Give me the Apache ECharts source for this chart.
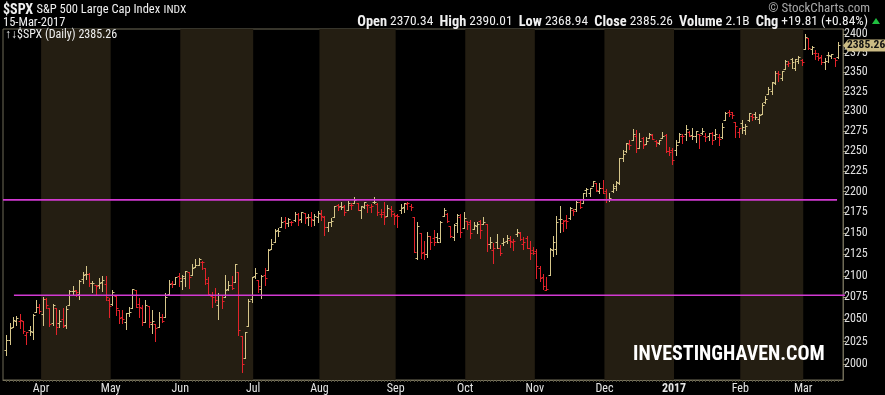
<!DOCTYPE html>
<html><head><meta charset="utf-8">
<script src="https://cdn.jsdelivr.net/npm/echarts@6/dist/echarts.min.js"></script>
<style>html,body{margin:0;padding:0;background:#000;} #c{width:885px;height:395px;}</style>
</head><body><div id="c"></div>
<script>
// ---------- DATA ($SPX daily, 16-Mar-2016 .. 15-Mar-2017) ----------
const dates = [
'2016-03-16','2016-03-17','2016-03-18','2016-03-21','2016-03-22','2016-03-23','2016-03-24','2016-03-28','2016-03-29','2016-03-30','2016-03-31',
'2016-04-01','2016-04-04','2016-04-05','2016-04-06','2016-04-07','2016-04-08','2016-04-11','2016-04-12','2016-04-13','2016-04-14','2016-04-15','2016-04-18','2016-04-19','2016-04-20','2016-04-21','2016-04-22','2016-04-25','2016-04-26','2016-04-27','2016-04-28','2016-04-29',
'2016-05-02','2016-05-03','2016-05-04','2016-05-05','2016-05-06','2016-05-09','2016-05-10','2016-05-11','2016-05-12','2016-05-13','2016-05-16','2016-05-17','2016-05-18','2016-05-19','2016-05-20','2016-05-23','2016-05-24','2016-05-25','2016-05-26','2016-05-27','2016-05-31',
'2016-06-01','2016-06-02','2016-06-03','2016-06-06','2016-06-07','2016-06-08','2016-06-09','2016-06-10','2016-06-13','2016-06-14','2016-06-15','2016-06-16','2016-06-17','2016-06-20','2016-06-21','2016-06-22','2016-06-23','2016-06-24','2016-06-27','2016-06-28','2016-06-29','2016-06-30',
'2016-07-01','2016-07-05','2016-07-06','2016-07-07','2016-07-08','2016-07-11','2016-07-12','2016-07-13','2016-07-14','2016-07-15','2016-07-18','2016-07-19','2016-07-20','2016-07-21','2016-07-22','2016-07-25','2016-07-26','2016-07-27','2016-07-28','2016-07-29',
'2016-08-01','2016-08-02','2016-08-03','2016-08-04','2016-08-05','2016-08-08','2016-08-09','2016-08-10','2016-08-11','2016-08-12','2016-08-15','2016-08-16','2016-08-17','2016-08-18','2016-08-19','2016-08-22','2016-08-23','2016-08-24','2016-08-25','2016-08-26','2016-08-29','2016-08-30','2016-08-31',
'2016-09-01','2016-09-02','2016-09-06','2016-09-07','2016-09-08','2016-09-09','2016-09-12','2016-09-13','2016-09-14','2016-09-15','2016-09-16','2016-09-19','2016-09-20','2016-09-21','2016-09-22','2016-09-23','2016-09-26','2016-09-27','2016-09-28','2016-09-29','2016-09-30',
'2016-10-03','2016-10-04','2016-10-05','2016-10-06','2016-10-07','2016-10-10','2016-10-11','2016-10-12','2016-10-13','2016-10-14','2016-10-17','2016-10-18','2016-10-19','2016-10-20','2016-10-21','2016-10-24','2016-10-25','2016-10-26','2016-10-27','2016-10-28','2016-10-31',
'2016-11-01','2016-11-02','2016-11-03','2016-11-04','2016-11-07','2016-11-08','2016-11-09','2016-11-10','2016-11-11','2016-11-14','2016-11-15','2016-11-16','2016-11-17','2016-11-18','2016-11-21','2016-11-22','2016-11-23','2016-11-25','2016-11-28','2016-11-29','2016-11-30',
'2016-12-01','2016-12-02','2016-12-05','2016-12-06','2016-12-07','2016-12-08','2016-12-09','2016-12-12','2016-12-13','2016-12-14','2016-12-15','2016-12-16','2016-12-19','2016-12-20','2016-12-21','2016-12-22','2016-12-23','2016-12-27','2016-12-28','2016-12-29','2016-12-30',
'2017-01-03','2017-01-04','2017-01-05','2017-01-06','2017-01-09','2017-01-10','2017-01-11','2017-01-12','2017-01-13','2017-01-17','2017-01-18','2017-01-19','2017-01-20','2017-01-23','2017-01-24','2017-01-25','2017-01-26','2017-01-27','2017-01-30','2017-01-31',
'2017-02-01','2017-02-02','2017-02-03','2017-02-06','2017-02-07','2017-02-08','2017-02-09','2017-02-10','2017-02-13','2017-02-14','2017-02-15','2017-02-16','2017-02-17','2017-02-21','2017-02-22','2017-02-23','2017-02-24','2017-02-27','2017-02-28',
'2017-03-01','2017-03-02','2017-03-03','2017-03-06','2017-03-07','2017-03-08','2017-03-09','2017-03-10','2017-03-13','2017-03-14','2017-03-15'
];
const opens = [
2015.27,2026.90,2041.16,2047.88,2048.64,2048.55,2032.48,2037.89,2035.75,2058.27,2063.77,
2056.62,2073.19,2062.50,2045.56,2063.01,2045.54,2050.23,2043.72,2065.92,2082.89,2083.10,2078.83,2096.05,2101.52,2102.09,2091.49,2089.37,2089.84,2092.57,2090.93,2071.82,
2067.17,2077.18,2060.30,2052.95,2046.61,2057.55,2062.63,2083.29,2067.17,2062.50,2046.53,2065.04,2044.38,2044.21,2041.88,2052.23,2052.65,2078.93,2091.44,2090.06,2100.13,
2093.94,2097.71,2104.07,2100.83,2110.18,2112.71,2115.65,2109.57,2091.75,2076.65,2077.60,2066.36,2078.20,2075.58,2085.19,2089.75,2092.80,2103.81,2031.45,2006.67,2042.69,2073.17,
2099.34,2095.05,2084.43,2100.42,2106.97,2131.72,2139.50,2153.81,2157.88,2165.13,2162.04,2163.79,2166.10,2172.91,2166.47,2173.71,2168.97,2169.81,2166.05,2168.83,
2173.15,2169.94,2156.81,2163.51,2168.79,2183.76,2182.24,2182.81,2177.97,2183.74,2186.08,2186.24,2177.84,2181.90,2184.24,2181.58,2187.81,2185.09,2173.29,2175.10,2170.19,2179.45,2173.56,
2171.33,2177.49,2181.61,2185.17,2182.76,2169.08,2120.86,2150.47,2127.86,2125.36,2146.48,2143.99,2145.94,2144.58,2170.94,2173.29,2158.54,2146.04,2161.85,2168.90,2156.51,
2164.33,2163.37,2155.15,2158.22,2164.19,2160.39,2161.35,2137.67,2130.26,2139.68,2132.95,2138.31,2140.81,2142.51,2139.43,2148.50,2149.72,2136.97,2144.06,2132.23,2129.78,
2128.68,2109.43,2098.80,2083.79,2100.59,2129.92,2131.56,2167.49,2162.71,2165.64,2168.29,2177.53,2178.61,2186.85,2186.43,2201.56,2198.55,2206.27,2210.21,2200.76,2204.97,
2200.17,2191.12,2200.65,2207.26,2210.72,2241.13,2249.73,2258.83,2263.32,2268.35,2253.77,2266.81,2259.24,2266.50,2270.54,2262.93,2260.25,2266.23,2270.23,2249.50,2251.61,
2251.57,2261.60,2268.18,2271.14,2273.59,2269.72,2268.60,2271.14,2272.74,2269.14,2269.14,2271.90,2269.96,2267.78,2267.88,2288.88,2298.63,2299.02,2286.01,2274.02,
2285.59,2276.69,2288.54,2294.28,2295.87,2289.55,2296.70,2312.27,2321.72,2326.12,2335.58,2349.64,2343.01,2354.91,2361.11,2367.50,2355.73,2365.23,2366.08,
2380.13,2394.75,2380.92,2375.23,2370.74,2369.81,2363.49,2372.52,2371.56,2368.55,2370.34
];
const highs = [
2032.02,2046.24,2052.36,2053.91,2056.60,2048.55,2036.04,2042.67,2055.91,2072.21,2067.92,
2075.07,2074.02,2062.50,2067.33,2063.01,2060.63,2062.93,2065.05,2083.18,2087.84,2083.22,2094.66,2104.05,2111.05,2103.78,2094.32,2089.37,2096.87,2099.89,2099.30,2073.85,
2083.42,2077.18,2060.30,2060.23,2057.72,2064.15,2084.87,2083.29,2073.99,2066.79,2071.88,2065.69,2060.61,2044.21,2058.35,2055.58,2079.67,2094.73,2094.30,2099.06,2103.48,
2100.97,2105.26,2104.07,2113.36,2119.22,2120.55,2117.64,2109.57,2098.12,2081.30,2085.65,2079.62,2078.20,2100.66,2093.66,2099.71,2113.32,2103.81,2031.45,2036.09,2073.13,2098.94,
2108.71,2095.05,2100.72,2109.08,2131.71,2143.16,2155.40,2156.45,2168.99,2169.05,2168.35,2164.63,2175.63,2174.56,2175.11,2173.71,2173.54,2174.98,2172.85,2177.09,
2178.29,2170.20,2163.79,2168.19,2182.87,2185.44,2187.66,2183.41,2188.45,2186.28,2193.81,2186.24,2183.08,2187.03,2185.00,2185.15,2193.42,2186.66,2179.00,2187.94,2183.48,2182.27,2173.79,
2173.56,2184.87,2186.57,2187.87,2184.94,2169.08,2163.30,2150.47,2141.33,2151.31,2146.48,2153.61,2150.80,2165.11,2179.99,2173.75,2158.54,2161.13,2172.40,2172.67,2175.30,
2164.41,2165.46,2163.95,2162.93,2165.86,2169.60,2161.56,2145.36,2138.19,2149.19,2135.61,2144.38,2148.44,2147.18,2142.63,2154.79,2151.44,2145.73,2147.13,2140.72,2133.25,
2131.45,2111.76,2102.56,2099.07,2132.00,2146.87,2170.10,2182.30,2165.92,2171.36,2180.84,2179.22,2188.06,2189.89,2198.70,2204.80,2204.72,2213.35,2211.14,2210.46,2214.10,
2202.60,2197.95,2209.42,2212.78,2241.63,2251.69,2259.80,2264.03,2277.53,2276.20,2272.12,2268.05,2267.47,2272.56,2271.23,2263.18,2263.79,2273.82,2271.31,2254.51,2253.58,
2263.88,2272.82,2271.50,2282.10,2275.49,2279.27,2275.32,2271.78,2278.68,2272.08,2272.01,2274.33,2276.96,2271.78,2284.63,2299.55,2300.99,2299.02,2286.01,2279.09,
2289.14,2283.97,2298.31,2296.18,2299.40,2295.91,2311.08,2319.23,2331.58,2337.58,2351.30,2351.31,2351.16,2366.71,2365.13,2368.26,2367.34,2371.54,2367.79,
2400.98,2394.75,2383.89,2378.80,2375.12,2373.09,2369.08,2376.86,2374.42,2368.55,2390.01
];
const lows = [
2010.04,2022.16,2041.16,2043.14,2040.57,2034.86,2022.49,2031.96,2028.31,2058.27,2057.46,
2043.98,2062.57,2042.56,2043.09,2033.80,2041.69,2041.88,2039.74,2065.92,2078.13,2076.31,2073.65,2091.68,2096.32,2088.52,2081.20,2077.52,2085.80,2082.31,2071.62,2052.28,
2066.11,2054.89,2045.55,2045.77,2039.45,2054.31,2062.63,2064.46,2053.13,2043.13,2046.53,2040.82,2034.49,2025.91,2041.88,2047.26,2052.65,2078.93,2087.08,2090.06,2088.66,
2085.10,2088.59,2085.36,2100.83,2110.18,2112.71,2107.73,2089.96,2078.46,2064.10,2069.80,2050.37,2062.84,2075.58,2083.02,2084.36,2092.80,2032.57,1991.68,2006.67,2042.69,2070.00,
2097.90,2080.86,2074.02,2089.39,2106.97,2131.72,2139.50,2146.21,2157.88,2155.79,2159.07,2159.40,2164.89,2159.75,2163.24,2161.95,2160.18,2159.07,2159.74,2163.49,
2166.21,2147.58,2152.70,2159.07,2168.79,2177.85,2178.61,2172.00,2177.97,2179.42,2186.08,2178.14,2168.50,2180.46,2175.13,2175.96,2186.80,2171.25,2169.74,2160.39,2170.19,2170.41,2161.35,
2157.09,2173.59,2175.10,2179.07,2177.49,2127.81,2119.12,2120.27,2119.90,2122.36,2131.20,2135.91,2139.17,2139.57,2170.94,2163.97,2145.04,2141.55,2151.79,2145.20,2156.51,
2154.77,2144.01,2155.15,2150.28,2144.85,2160.39,2128.84,2132.77,2114.72,2132.98,2124.43,2135.49,2138.15,2133.44,2130.09,2146.91,2141.93,2131.59,2132.52,2119.36,2125.53,
2097.85,2094.00,2085.23,2083.79,2100.59,2123.56,2125.35,2151.17,2152.49,2156.08,2166.38,2172.20,2176.65,2180.38,2186.43,2194.51,2194.51,2206.27,2200.36,2198.15,2198.81,
2187.44,2188.37,2199.97,2202.21,2208.93,2237.57,2249.23,2252.37,2263.32,2248.44,2253.77,2254.24,2258.21,2266.14,2265.15,2256.08,2258.84,2266.15,2249.11,2244.56,2233.62,
2245.13,2261.60,2260.45,2264.06,2268.90,2265.27,2260.83,2254.25,2271.51,2262.81,2263.35,2258.41,2265.01,2257.02,2266.68,2288.88,2294.08,2291.62,2268.04,2267.21,
2272.44,2271.65,2287.88,2288.57,2290.16,2285.38,2296.61,2311.10,2321.42,2322.17,2334.81,2338.87,2339.58,2354.91,2358.34,2355.09,2352.87,2361.87,2358.96,
2380.13,2380.17,2374.42,2367.98,2365.51,2361.01,2354.54,2363.04,2368.52,2358.18,2368.94
];
const closes = [
2027.22,2040.59,2049.58,2051.60,2049.80,2036.71,2035.94,2037.05,2055.01,2063.95,2059.74,
2072.78,2066.13,2045.17,2066.66,2041.91,2047.60,2041.99,2061.72,2082.42,2082.78,2080.73,2094.34,2100.80,2102.40,2091.48,2091.58,2087.79,2091.70,2095.15,2075.81,2065.30,
2081.43,2063.37,2051.12,2050.63,2057.14,2058.69,2084.39,2064.46,2064.11,2046.61,2066.66,2047.21,2047.63,2040.04,2052.32,2048.04,2076.06,2090.54,2090.10,2099.06,2096.95,
2099.33,2105.26,2099.13,2109.41,2112.13,2119.12,2115.48,2096.07,2079.06,2075.32,2071.50,2077.99,2071.22,2083.25,2088.90,2085.45,2113.32,2037.41,2000.54,2036.09,2070.77,2098.86,
2102.95,2088.55,2099.73,2097.90,2129.90,2137.16,2152.14,2152.43,2163.75,2161.74,2166.89,2163.78,2173.02,2165.17,2175.03,2168.48,2169.18,2166.58,2170.06,2173.60,
2170.84,2157.03,2163.79,2164.25,2182.87,2180.89,2181.74,2175.49,2185.79,2184.05,2190.15,2178.15,2182.22,2187.02,2183.87,2182.64,2186.90,2175.44,2172.47,2169.04,2180.38,2176.12,2170.95,
2170.86,2179.98,2186.48,2186.16,2181.30,2127.81,2159.04,2127.02,2125.77,2147.26,2139.16,2139.12,2139.76,2163.12,2177.18,2164.69,2146.10,2159.93,2171.37,2151.13,2168.27,
2161.20,2150.49,2159.73,2160.77,2153.74,2163.66,2136.73,2139.18,2132.55,2132.98,2126.50,2139.60,2144.29,2141.34,2141.16,2151.33,2143.16,2139.43,2133.04,2126.41,2126.15,
2111.72,2097.94,2088.66,2085.18,2131.52,2139.56,2163.26,2167.48,2164.45,2164.20,2180.39,2176.94,2187.12,2181.90,2198.18,2202.94,2204.72,2213.35,2201.72,2204.66,2198.81,
2191.08,2191.95,2204.71,2212.23,2241.35,2246.19,2259.53,2256.96,2271.72,2253.28,2262.03,2258.07,2262.53,2270.76,2265.18,2260.96,2263.79,2268.88,2249.92,2249.26,2238.83,
2257.83,2270.75,2269.00,2276.98,2268.90,2268.90,2275.32,2270.44,2274.64,2267.89,2271.89,2263.69,2271.31,2265.20,2280.07,2298.37,2296.68,2294.69,2280.90,2278.87,
2279.55,2280.85,2297.42,2292.56,2293.08,2294.67,2307.87,2316.10,2328.25,2337.58,2349.25,2347.22,2351.16,2365.38,2362.82,2363.81,2367.34,2369.75,2363.64,
2395.96,2381.92,2383.12,2375.31,2368.39,2362.98,2364.87,2372.60,2373.47,2365.45,2385.26
];
const prevClose = 2015.93;                 // close before first bar
const monthLabels = ['Apr','May','Jun','Jul','Aug','Sep','Oct','Nov','Dec','2017','Feb','Mar'];
const shadedMonths = ['2016-04','2016-06','2016-08','2016-10','2016-12','2017-02'];
const yTickValues = [2000,2025,2050,2075,2100,2125,2150,2175,2200,2225,2250,2275,2300,2325,2350,2375,2400];
const trendLevels = [2190, 2077.5];          // drawn horizontal lines (price)
const trendSpans = [[-1, 250.7], [2.3, 254]]; // bar-index span of each line
const yMin = 1982.4, yMax = 2407;

// ---------- BUILD ----------
const FONT = "'Roboto Condensed','Liberation Sans',Arial,sans-serif";
const UP = '#d6c68a', DOWN = '#e3222a';
const ln = Math.log;

const boundaries = [];
for (let i = 1; i < dates.length; i++) {
  if (dates[i].slice(0, 7) !== dates[i - 1].slice(0, 7)) boundaries.push({ ym: dates[i].slice(0, 7), at: i - 0.5 });
}
const bands = [];
boundaries.forEach((b, k) => {
  if (shadedMonths.indexOf(b.ym) >= 0) {
    const end = k + 1 < boundaries.length ? boundaries[k + 1].at : dates.length - 0.5;
    bands.push([b.at, end]);
  }
});
const bars = dates.map((d, i) => [i, ln(opens[i]), ln(closes[i]), ln(lows[i]), ln(highs[i]),
  closes[i] >= (i ? closes[i - 1] : prevClose) ? 1 : 0]);

const last = dates.length - 1;
const lastClose = closes[last];

const chart = echarts.init(document.getElementById('c'), null, { renderer: 'canvas' });
const option = {
  backgroundColor: '#000',
  animation: false,
  grid: { left: 3, right: 42, top: 29, bottom: 14, show: true, backgroundColor: '#000', borderColor: '#6e6a56', borderWidth: 1 },
  xAxis: {
    type: 'value', min: -1, max: 252.5,
    axisLine: { show: true, onZero: false, lineStyle: { color: '#77725c' } },
    axisTick: { show: true, customValues: dates.map((d, i) => i), length: 2, lineStyle: { color: '#55523f' } },
    splitLine: { show: false },
    axisLabel: {
      customValues: boundaries.map(b => b.at),
      formatter: v => {
        const k = boundaries.findIndex(b => Math.abs(b.at - v) < 0.01);
        const t = monthLabels[k] || '';
        return t === '2017' ? '{y|2017}' : t;
      },
      color: '#e4e4e4', fontSize: 12, fontFamily: FONT, margin: 3,
      rich: { y: { fontWeight: 'bold', fontSize: 12, color: '#e4e4e4', fontFamily: FONT } }
    }
  },
  yAxis: {
    type: 'value', position: 'right', min: ln(yMin), max: ln(yMax),
    axisLine: { show: true, onZero: false, lineStyle: { color: '#6e6a56' } },
    axisTick: { show: true, customValues: yTickValues.map(ln), length: 3, lineStyle: { color: '#a09a80' } },
    splitLine: { show: false },
    axisLabel: {
      customValues: yTickValues.map(ln),
      formatter: v => String(Math.round(Math.exp(v))),
      color: '#e0e0e0', fontSize: 12, fontFamily: FONT, margin: 1
    }
  },
  series: [
    {
      type: 'custom', z: 1, silent: true, clip: true,
      data: bands,
      encode: { x: [0, 1] },
      renderItem: (params, api) => {
        const a = api.coord([api.value(0), ln(yMax)]);
        const b = api.coord([api.value(1), ln(yMin)]);
        const cs = params.coordSys;
        return { type: 'rect', shape: { x: a[0], y: cs.y, width: b[0] - a[0], height: cs.height }, style: { fill: '#241e12' } };
      }
    },
    {
      type: 'custom', z: 3, silent: true, clip: true,
      data: bars,
      encode: { x: 0, y: [1, 2, 3, 4] },
      renderItem: (params, api) => {
        const i = api.value(0);
        const o = api.coord([i, api.value(1)]);
        const c = api.coord([i, api.value(2)]);
        const l = api.coord([i, api.value(3)]);
        const h = api.coord([i, api.value(4)]);
        const x = Math.round(o[0]) + 0.5;
        const col = api.value(5) ? UP : DOWN;
        const yo = Math.round(o[1]) + 0.5, yc = Math.round(c[1]) + 0.5;
        let yh = Math.round(h[1]), yl = Math.round(l[1]) + 1;
        if (yl - yh < 2) yl = yh + 2;
        const st = { stroke: col, lineWidth: 1 };
        return { type: 'group', children: [
          { type: 'line', shape: { x1: x, y1: yh, x2: x, y2: yl }, style: st },
          { type: 'line', shape: { x1: x - 2, y1: yo, x2: x, y2: yo }, style: st },
          { type: 'line', shape: { x1: x, y1: yc, x2: x + 2, y2: yc }, style: st }
        ] };
      }
    },
    ...trendLevels.map((lv, k) => ({
      type: 'line', z: 4, silent: true, clip: false, symbol: 'none',
      data: [[trendSpans[k][0], ln(lv)], [trendSpans[k][1], ln(lv)]],
      lineStyle: { color: '#d23ad2', width: 1.6 }
    }))
  ],
  graphic: [
    { type: 'text', left: 3, top: 3, z: 10, style: {
      text: '{b|$SPX} {n|S&P 500 Large Cap Index} {s|INDX}',
      rich: {
        b: { fontFamily: FONT, fontSize: 14, fontWeight: 'bold', fill: '#f0f0f0' },
        n: { fontFamily: FONT, fontSize: 12.5, fill: '#f0f0f0' },
        s: { fontFamily: FONT, fontSize: 11.5, fill: '#f0f0f0' }
      } } },
    { type: 'text', left: 3, top: 16, z: 10, style: { text: '15-Mar-2017', fontFamily: FONT, fontSize: 12.5, fill: '#f0f0f0' } },
    { type: 'text', right: 15, top: 2, z: 10, style: { text: '© StockCharts.com', fontFamily: FONT, fontSize: 13, fill: '#a8a8a8' } },
    { type: 'text', right: 17, top: 15, z: 10, style: {
      text: '{b|Open} 2370.34  {b|High} 2390.01  {b|Low} 2368.94  {b|Close} 2385.26  {b|Volume} 2.1B  {b|Chg} +19.81 (+0.84%)',
      fontFamily: FONT, fontSize: 13.4, fill: '#f0f0f0',
      rich: { b: { fontFamily: FONT, fontSize: 14.4, fontWeight: 'bold', fill: '#f0f0f0' } }
    } },
    { type: 'polygon', z: 10, shape: { points: [[872, 24], [876, 18], [880, 24]] }, style: { fill: '#20c040' } },
    { type: 'text', left: 5, top: 29, z: 10, style: { text: '↑↓$SPX (Daily) 2385.26', fontFamily: FONT, fontSize: 12, fill: '#f0f0f0' } },
    { type: 'text', left: 633, top: 345, z: 10, style: { text: 'INVESTINGHAVEN.COM', fontFamily: FONT, fontSize: 20, fontWeight: 'bold', fill: '#ffffff' } }
  ]
};
chart.setOption(option);

// last-price marker on the price axis, positioned through the axis scale
const py = chart.convertToPixel({ yAxisIndex: 0 }, ln(lastClose));
chart.setOption({
  graphic: option.graphic.concat([
    { type: 'polygon', z: 11, shape: { points: [[843, py], [848, py - 6], [885, py - 6], [885, py + 6], [848, py + 6]] },
      style: { fill: '#cbbb84' } },
    { type: 'text', left: 847, top: py - 6, z: 12, style: { text: lastClose.toFixed(2), fontFamily: FONT, fontSize: 11.5, fontWeight: 'bold', fill: '#111' } }
  ])
});
</script>
</body></html>
